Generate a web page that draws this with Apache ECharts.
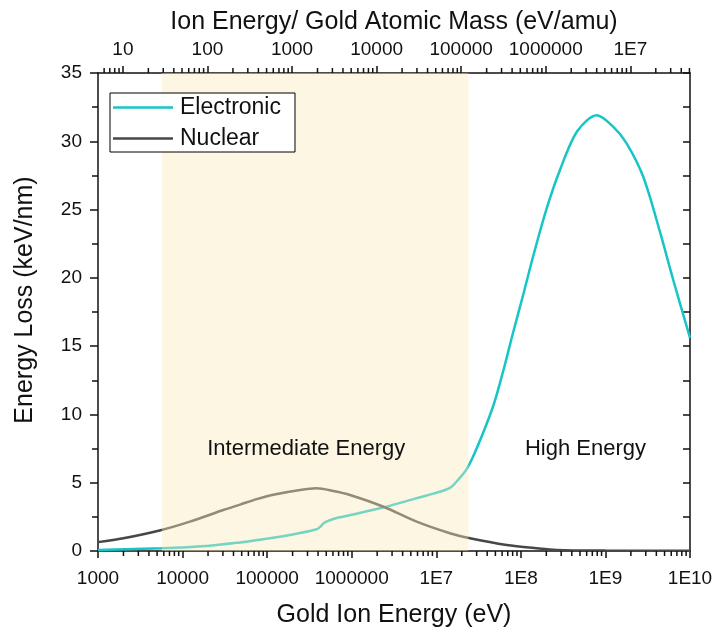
<!DOCTYPE html>
<html><head><meta charset="utf-8">
<script src="https://cdn.jsdelivr.net/npm/echarts@6/dist/echarts.min.js"></script>
<style>html,body{margin:0;padding:0;background:#fff}#c{width:718px;height:629px}</style>
</head><body><div id="c"></div>
<script>
const AU_MASS = 197;
const energyMin = 1000;
const energyMax = 1e10;
const elecEnergy = [1000, 5660, 19300, 47800, 75300, 186000, 385000, 420000, 470000, 550000, 700000, 1.0e6, 2.4e6, 5.9e6, 9.2e6, 1.45e7, 1.8e7, 2.29e7, 3.0e7, 4.7e7, 6.2e7, 8.1e7, 1.07e8, 1.4e8, 2.0e8, 2.9e8, 4.6e8, 7.9e8, 1.24e9, 1.78e9, 2.8e9, 4.4e9, 6.3e9, 1e10];
const elecLoss = [0.07, 0.2, 0.37, 0.63, 0.8, 1.17, 1.59, 1.75, 2.05, 2.25, 2.45, 2.65, 3.2, 3.87, 4.2, 4.62, 5.2, 6.0, 7.5, 10.6, 13.2, 16.0, 18.8, 21.6, 25.0, 27.9, 30.7, 31.9, 31.06, 29.85, 27.4, 23.4, 19.9, 15.6];
const nucEnergy = [1000, 1990, 5660, 12200, 30300, 47800, 75300, 118000, 245000, 385000, 606000, 954000, 2.37e6, 5.86e6, 1.45e7, 2.5e7, 6.8e7, 1.54e8, 2.65e8, 1e9, 1e10];
const nucLoss = [0.65, 0.93, 1.54, 2.15, 3.0, 3.4, 3.8, 4.12, 4.47, 4.59, 4.39, 4.1, 3.24, 2.15, 1.3, 0.93, 0.44, 0.2, 0.08, 0.03, 0.01];
const regionBounds = [5700, 2.4e7];
const regionLabels = ['Intermediate Energy', 'High Energy'];
const regionLabelEnergy = [2.9e5, 5.8e8];
const regionLabelLoss = [7.5, 7.5];
const lossMin = 0, lossMax = 35, lossStep = 5;

const FONT = '"Liberation Sans", Arial, sans-serif';
const decadeMinors = (lo, hi) => { const out = []; for (let e = lo; e <= hi; e++) for (let k = 2; k <= 9; k++) out.push(k * Math.pow(10, e)); return out; };
const botMinor = decadeMinors(3, 9).filter(v => v > energyMin && v < energyMax);
const topMin = energyMin / AU_MASS, topMax = energyMax / AU_MASS;
const topMinor = decadeMinors(0, 7).filter(v => v > topMin && v < topMax);

function fmtLog(v) {
  const l = Math.log10(v); const e = Math.round(l);
  if (Math.abs(l - e) > 1e-6) return '';
  return e <= 6 ? String(Math.pow(10, e)) : '1E' + e;
}
const zip = (a, b) => a.map((v, i) => [v, b[i]]);
const axisCol = '#111';

const chart = echarts.init(document.getElementById('c'));
chart.setOption({
  animation: false,
  backgroundColor: '#fff',
  textStyle: { fontFamily: FONT },
  grid: { left: 98, right: 28, top: 73, bottom: 78, containLabel: false, outerBoundsMode: 'none' },
  legend: {
    data: ['Electronic', 'Nuclear'], orient: 'vertical', left: 110, top: 93,
    icon: 'rect', itemWidth: 60, itemHeight: 2.5, itemGap: 8, padding: [3, 14, 2, 3],
    borderColor: '#000', borderWidth: 1, backgroundColor: '#fff',
    textStyle: { fontSize: 23, color: '#111', fontFamily: FONT, padding: [0, 0, 0, 2] }
  },
  xAxis: [{
    type: 'log', min: energyMin, max: energyMax, position: 'bottom',
    name: 'Gold Ion Energy (eV)', nameLocation: 'middle', nameGap: 52,
    nameTextStyle: { fontSize: 25, color: '#111', fontFamily: FONT },
    axisLine: { show: true, onZero: false, lineStyle: { color: axisCol, width: 1.5 } },
    axisTick: { show: true, length: 7, lineStyle: { color: axisCol, width: 1.5 } },
    axisLabel: { fontSize: 19, color: '#111', margin: 18, formatter: fmtLog, fontFamily: FONT },
    splitLine: { show: false }
  }, {
    type: 'log', min: topMin, max: topMax, position: 'top',
    name: 'Ion Energy/ Gold Atomic Mass (eV/amu)', nameLocation: 'middle', nameGap: 35,
    nameTextStyle: { fontSize: 25, color: '#111', fontFamily: FONT },
    axisLine: { show: true, onZero: false, lineStyle: { color: axisCol, width: 1.5 } },
    axisTick: { show: true, length: 7, lineStyle: { color: axisCol, width: 1.5 } },
    axisLabel: { fontSize: 19, color: '#111', margin: 14, formatter: fmtLog, showMinLabel: false, showMaxLabel: false, fontFamily: FONT },
    splitLine: { show: false }
  }],
  yAxis: [{
    type: 'value', min: lossMin, max: lossMax, interval: lossStep, position: 'left',
    name: 'Energy Loss (keV/nm)', nameLocation: 'middle', nameGap: 60,
    nameTextStyle: { fontSize: 25, color: '#111', fontFamily: FONT, padding: [0, 0, 0, 24] },
    axisLine: { show: true, lineStyle: { color: axisCol, width: 1.5 } },
    axisTick: { show: true, length: 8, lineStyle: { color: axisCol, width: 1.5 } },
    minorTick: { show: true, splitNumber: 2, length: 6, lineStyle: { color: axisCol, width: 1.5 } },
    axisLabel: { fontSize: 19, color: '#111', margin: 16, fontFamily: FONT },
    splitLine: { show: false }
  }, {
    type: 'value', min: lossMin, max: lossMax, interval: lossStep / 2, position: 'right',
    axisLine: { show: true, lineStyle: { color: axisCol, width: 1.5 } },
    axisTick: { show: true, inside: true, length: 7, lineStyle: { color: axisCol, width: 1.5 } },
    axisLabel: { show: false },
    splitLine: { show: false }
  }],
  series: [
    {
      name: 'Electronic', type: 'line', data: zip(elecEnergy, elecLoss), smooth: 0.3,
      symbol: 'none', z: 2, lineStyle: { color: '#17C5C7', width: 2.5 }, itemStyle: { color: '#17C5C7' }
    },
    {
      name: 'Nuclear', type: 'line', data: zip(nucEnergy, nucLoss), smooth: 0.3,
      symbol: 'none', z: 2, lineStyle: { color: '#474747', width: 2.5 }, itemStyle: { color: '#474747' }
    },
    {
      type: 'custom', name: 'region', z: 3, silent: true,
      data: [regionBounds], encode: { x: [0, 1] },
      renderItem: (p, api) => {
        const a = api.coord([api.value(0), lossMax]);
        const b = api.coord([api.value(1), lossMin]);
        return { type: 'rect', shape: { x: a[0], y: a[1], width: b[0] - a[0], height: b[1] - a[1] },
          style: { fill: 'rgba(250,233,189,0.42)' } };
      }
    },
    {
      type: 'custom', name: 'labels', z: 4, silent: true,
      data: regionLabels.map((t, i) => [regionLabelEnergy[i], regionLabelLoss[i]]),
      encode: { x: 0, y: 1 },
      renderItem: (p, api) => {
        const c = api.coord([api.value(0), api.value(1)]);
        return { type: 'text', x: c[0], y: c[1],
          style: { text: regionLabels[p.dataIndex], fill: '#111', fontSize: 22, fontFamily: FONT, align: 'center', verticalAlign: 'middle' } };
      }
    },
    {
      type: 'custom', name: 'botMinor', z: 5, silent: true, clip: false,
      data: botMinor.map(v => [v]), encode: { x: 0 },
      renderItem: (p, api) => {
        const c = api.coord([api.value(0), lossMin]);
        return { type: 'line', shape: { x1: c[0], y1: c[1], x2: c[0], y2: c[1] + 5 }, style: { stroke: axisCol, lineWidth: 1.5 } };
      }
    },
    {
      type: 'custom', name: 'topMinor', z: 5, silent: true, clip: false, xAxisIndex: 1,
      data: topMinor.map(v => [v]), encode: { x: 0 },
      renderItem: (p, api) => {
        const c = api.coord([api.value(0), lossMax]);
        return { type: 'line', shape: { x1: c[0], y1: c[1], x2: c[0], y2: c[1] - 5 }, style: { stroke: axisCol, lineWidth: 1.5 } };
      }
    }
  ]
});
</script></body></html>
